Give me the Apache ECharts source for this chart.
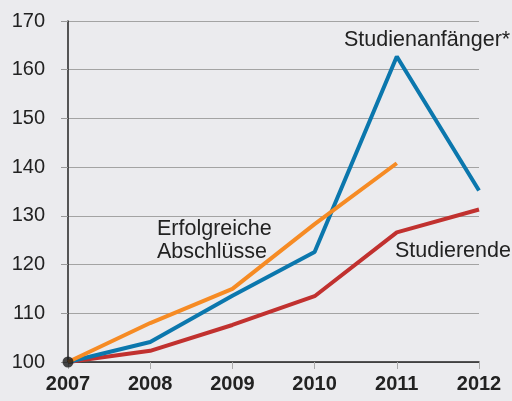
<!DOCTYPE html>
<html lang="de">
<head>
  <meta charset="UTF-8">
  <title>Studierende</title>
  <script src="https://cdn.jsdelivr.net/npm/echarts@6/dist/echarts.min.js"></script>
</head>
<body style="margin:0; background:#ebebee;">
  <div id="chart" style="width:512px; height:401px;"></div>
  <script>
    // Jahre und Indexwerte (2007 = 100)
    var years = ['2007', '2008', '2009', '2010', '2011', '2012'];
    var anfaenger = [100, 104.1, 113.6, 122.6, 162.7, 135.2];
    var abschluesse = [100, 108, 115, 128.3, 140.8];
    var studierende = [100, 102.3, 107.6, 113.5, 126.6, 131.3];
    var startPoint = [['2007', 100]];

    var chart = echarts.init(document.getElementById('chart'));
    var font = 'Liberation Sans, Arial, sans-serif';

    chart.setOption({
      backgroundColor: '#ebebee',
      animation: false,
      grid: { left: 68, right: 33, top: 21, bottom: 39 },
      xAxis: {
        type: 'category',
        data: years,
        boundaryGap: false,
        axisLine: { lineStyle: { color: '#222', width: 1.5 } },
        axisTick: { show: true, length: 7, lineStyle: { color: '#aaa' } },
        axisLabel: { color: '#222', fontFamily: font, fontSize: 20, fontWeight: 'bold', margin: 12 }
      },
      yAxis: {
        type: 'value',
        min: 100, max: 170, interval: 10,
        axisLine: { show: true, lineStyle: { color: '#222', width: 1.5 } },
        axisTick: { show: true, length: 7, lineStyle: { color: '#999' } },
        splitLine: { lineStyle: { color: '#a3a3a3', width: 1 } },
        axisLabel: { color: '#222', fontFamily: font, fontSize: 20, margin: 23 }
      },
      series: [
        {
          type: 'line', name: 'Studierende', data: studierende,
          symbol: 'none', lineStyle: { color: '#c1312f', width: 4 }, z: 3
        },
        {
          type: 'line', name: 'Studienanfänger', data: anfaenger,
          symbol: 'none', lineStyle: { color: '#0b77ad', width: 4 }, z: 4
        },
        {
          type: 'line', name: 'Erfolgreiche Abschlüsse', data: abschluesse,
          symbol: 'none', lineStyle: { color: '#f68b24', width: 4 }, z: 5
        },
        {
          type: 'scatter', data: startPoint, symbolSize: 11,
          itemStyle: { color: '#1a1a1a' }, z: 10
        }
      ],
      graphic: [
        { type: 'text', left: 344, top: 29.5, style: { text: 'Studienanfänger*', font: '21.5px ' + font, fill: '#222' } },
        { type: 'text', left: 157, top: 218, style: { text: 'Erfolgreiche\nAbschlüsse', font: '21.5px ' + font, fill: '#222', lineHeight: 22.5 } },
        { type: 'text', left: 395, top: 240, style: { text: 'Studierende', font: '21.5px ' + font, fill: '#222' } }
      ]
    });
  </script>
</body>
</html>
